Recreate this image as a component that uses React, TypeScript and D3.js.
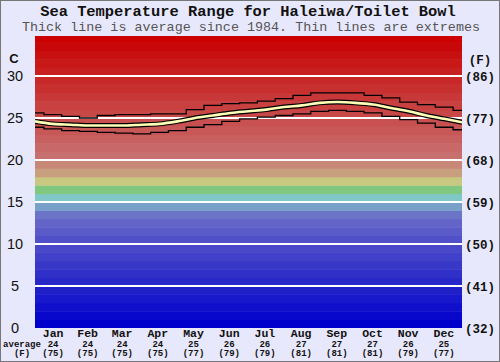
import * as d3 from "d3";

// half-month samples through the year, °C
const maxTemp = [
  25.6, 25.4, 25.2, 25.0, 25.3, 25.4, 25.4, 25.5, 25.5, 26.0, 26.5, 26.7, 26.8,
  27.0, 27.3, 27.7, 28.0, 28.0, 28.0, 27.7, 27.4, 26.9, 26.6, 26.3, 25.9,
];
const avgTemp = [
  24.6, 24.3, 24.2, 24.1, 24.1, 24.1, 24.2, 24.3, 24.6, 25.0, 25.3, 25.6, 25.8,
  26.0, 26.3, 26.5, 26.8, 26.9, 26.8, 26.6, 26.2, 25.8, 25.3, 24.9, 24.5,
];
const minTemp = [
  23.9, 23.7, 23.5, 23.4, 23.3, 23.2, 23.1, 23.3, 23.5, 23.9, 24.2, 24.6, 24.9,
  25.1, 25.3, 25.5, 25.8, 25.9, 25.8, 25.6, 25.2, 24.8, 24.4, 23.9, 23.6,
];

const months = ["Jan", "Feb", "Mar", "Apr", "May", "Jun", "Jul", "Aug", "Sep", "Oct", "Nov", "Dec"];
const monthDays = [31, 28, 31, 30, 31, 30, 31, 31, 30, 31, 30, 31];
const monthAvgC = [24, 24, 24, 24, 25, 26, 26, 27, 27, 27, 26, 25];
const monthAvgF = [75, 75, 75, 75, 77, 79, 79, 81, 81, 81, 79, 77];

const ticksC = [0, 5, 10, 15, 20, 25, 30];
const ticksF = [32, 41, 50, 59, 68, 77, 86];

// one colour per 1°C band, from 0°C upward
const bandColors = [
  "#0000cc", "#0808cc", "#1010cc", "#1818cc", "#2020c8", "#2828c8", "#3030c8",
  "#3838c8", "#4040c8", "#4848c8", "#5050c8", "#5a5ac8", "#6464c8", "#6c74c8",
  "#78a0c8", "#80c8c8", "#80c880", "#c8c880", "#c8a080", "#c88878", "#c87070",
  "#c86868", "#c86060", "#c85858", "#c85050", "#c84848", "#c84040", "#c83838",
  "#c83030", "#c82828", "#c82020", "#c81818", "#c81010", "#c80808", "#cc0000",
];

const W = 500;
const H = 362;
const left = 35;
const right = 462;
const top = 36;
const bottom = 328;

const mono = "'Liberation Mono', 'DejaVu Sans Mono', monospace";
const sans = "'Liberation Sans', Arial, sans-serif";

const App = () => {
  const x = d3.scaleLinear().domain([0, 365]).range([left, right]);
  const y = d3.scaleLinear().domain([0, 30]).range([bottom, 76]);
  const step = 365 / (avgTemp.length - 1);

  const stepLine = d3
    .line<number>()
    .x((_, i) => x(i * step))
    .y((d) => y(d))
    .curve(d3.curveStep);
  const smoothLine = d3
    .line<number>()
    .x((_, i) => x(i * step))
    .y((d) => y(d))
    .curve(d3.curveMonotoneX);

  const monthStart = d3.cumsum([0, ...monthDays.slice(0, 11)]);

  return (
    <svg
      width={W}
      height={H}
      style={{ position: "absolute", left: 0, top: 0 }}
    >
      <rect x={0.5} y={0.5} width={W - 1} height={H - 1} fill="#e8e8fc" stroke="#777" />

      <text x={W / 2 - 2} y={16} textAnchor="middle" fontFamily={mono} fontWeight="bold" fontSize={15.4} fill="#111">
        Sea Temperature Range for Haleiwa/Toilet Bowl
      </text>
      <text x={W / 2 + 1} y={31} textAnchor="middle" fontFamily={mono} fontSize={13.4} fill="#555">
        Thick line is average since 1984. Thin lines are extremes
      </text>

      <defs>
        <clipPath id="plot">
          <rect x={left} y={top} width={right - left} height={bottom - top} />
        </clipPath>
      </defs>

      <g clipPath="url(#plot)">
        {bandColors.map((c, i) => (
          <rect
            key={i}
            x={left}
            y={y(i + 1)}
            width={right - left}
            height={y(i) - y(i + 1) + 0.5}
            fill={c}
          />
        ))}
        {ticksC.slice(1).map((t) => (
          <line key={t} x1={left} x2={right} y1={y(t)} y2={y(t)} stroke="#fff" strokeWidth={2} />
        ))}
        {monthStart.slice(1).map((d, i) => (
          <line key={i} x1={x(d)} x2={x(d)} y1={top} y2={bottom} stroke="#666" strokeWidth={1} />
        ))}
        <path d={stepLine(maxTemp) ?? ""} fill="none" stroke="#000" strokeWidth={1.3} />
        <path d={stepLine(minTemp) ?? ""} fill="none" stroke="#000" strokeWidth={1.3} />
        <path d={smoothLine(avgTemp) ?? ""} fill="none" stroke="#000" strokeWidth={5} />
        <path d={smoothLine(avgTemp) ?? ""} fill="none" stroke="#ffffb8" strokeWidth={2.6} />
      </g>

      <text x={14} y={63} textAnchor="middle" fontFamily={sans} fontWeight="bold" fontSize={13} fill="#111">
        C
      </text>
      {ticksC.map((t) => (
        <text key={t} x={15} y={y(t) + 5} textAnchor="middle" fontFamily={sans} fontSize={14.5} fill="#111">
          {t}
        </text>
      ))}

      <text x={480} y={64} textAnchor="middle" fontFamily={mono} fontWeight="bold" fontSize={12.5} fill="#111">
        (F)
      </text>
      {ticksF.map((f, i) => (
        <text key={f} x={480} y={y(ticksC[i]) + 5} textAnchor="middle" fontFamily={mono} fontWeight="bold" fontSize={12.5} fill="#111">
          ({f})
        </text>
      ))}

      {months.map((m, i) => {
        const cx = x(monthStart[i] + monthDays[i] / 2);
        return (
          <g key={m} fontFamily={mono} fontWeight="bold" fill="#111" textAnchor="middle">
            <text x={cx} y={337} fontSize={11.5}>{m}</text>
            <text x={cx} y={347} fontSize={9}>{monthAvgC[i]}</text>
            <text x={cx} y={356} fontSize={9}>({monthAvgF[i]})</text>
          </g>
        );
      })}
      <g fontFamily={mono} fontWeight="bold" fill="#111" textAnchor="middle" fontSize={9}>
        <text x={22} y={347}>average</text>
        <text x={22} y={356}>(F)</text>
      </g>
    </svg>
  );
};

export default App;
